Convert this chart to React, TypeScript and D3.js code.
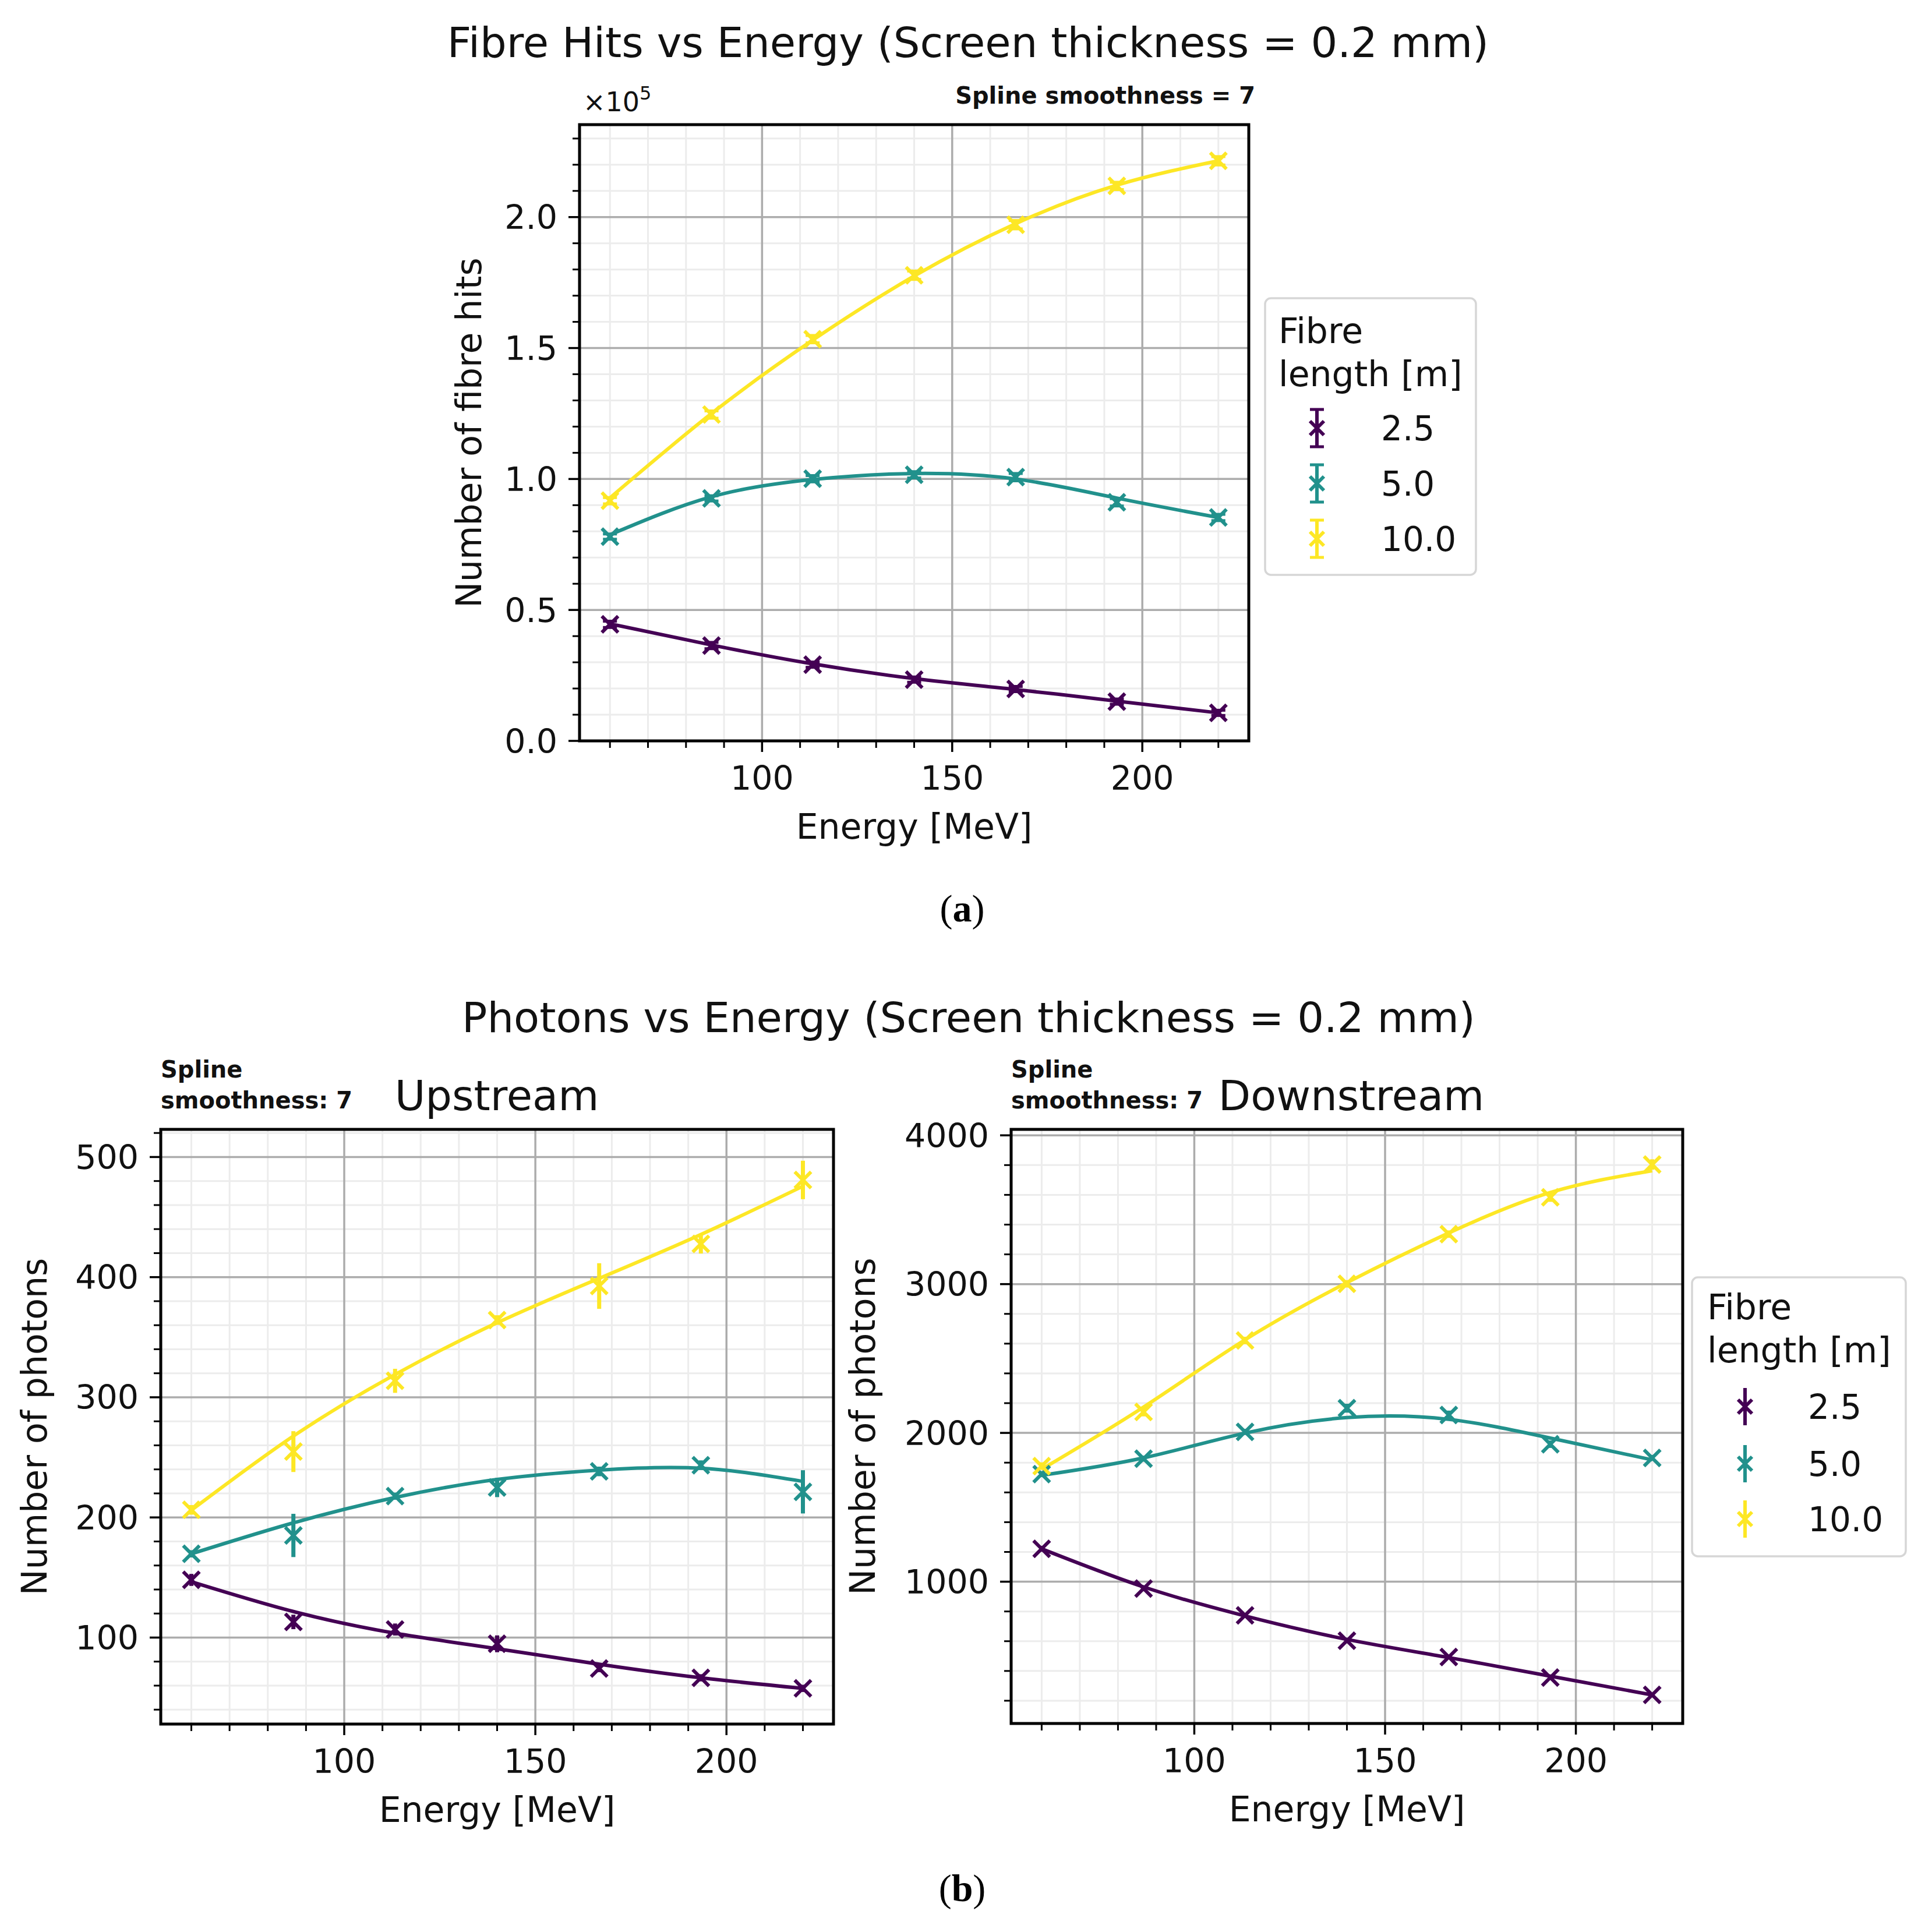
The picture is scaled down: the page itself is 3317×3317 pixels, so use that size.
import * as d3 from "d3";

// energies of the beam (x) for every panel
const energies = [60, 86.7, 113.3, 140, 166.7, 193.3, 220];
const lengthLabels = ["2.5", "5.0", "10.0"];
const colors = ["#440154", "#21918c", "#fde725"];

// (a) fibre hits, x1e5
const hits25 = [0.445, 0.364, 0.291, 0.234, 0.198, 0.15, 0.107];
const hits50 = [0.78, 0.926, 1.001, 1.016, 1.007, 0.911, 0.853];
const hits100 = [0.917, 1.246, 1.534, 1.778, 1.971, 2.119, 2.215];
const hitsErr25 = [0.012, 0.012, 0.01, 0.01, 0.01, 0.01, 0.01];
const hitsErr50 = [0.01, 0.01, 0.012, 0.012, 0.014, 0.014, 0.012];
const hitsErr100 = [0.012, 0.014, 0.014, 0.016, 0.016, 0.014, 0.016];
const hitsFit25 = [0.447, 0.366, 0.294, 0.238, 0.196, 0.152, 0.107];
const hitsFit50 = [0.787, 0.932, 0.998, 1.021, 1.0, 0.927, 0.853];
const hitsFit100 = [0.928, 1.25, 1.53, 1.775, 1.975, 2.122, 2.215];

// (b) upstream photons
const up25 = [148, 113, 106.7, 94.8, 74.2, 66.5, 57.7];
const up50 = [169.7, 185, 217.7, 224.9, 238.3, 243.5, 221.3];
const up100 = [206.3, 254.8, 313.7, 364.3, 392.6, 427.7, 480.9];
const upErr25 = [5, 6, 5, 7, 3, 3, 3];
const upErr50 = [3, 18, 3, 8, 4, 4, 18];
const upErr100 = [4, 17, 10, 4, 19, 8, 16];
const upFit25 = [146.5, 121.7, 103.6, 90.7, 77.8, 66.5, 57.7];
const upFit50 = [169.7, 195.5, 216.6, 231.6, 239.4, 240.9, 230];
const upFit100 = [206, 267.7, 319, 362, 399, 435.5, 475.7];

// (b) downstream photons
const down25 = [1221, 954, 774, 603, 494, 356, 239];
const down50 = [1723, 1827, 2007, 2166, 2120, 1924, 1832];
const down100 = [1777, 2141, 2621, 3002, 3336, 3583, 3804];
const downErr25 = [20, 18, 16, 16, 16, 16, 16];
const downErr50 = [20, 20, 20, 30, 30, 25, 20];
const downErr100 = [25, 30, 25, 25, 25, 30, 35];
const downFit25 = [1221, 965, 770, 612, 490, 365, 239];
const downFit50 = [1715, 1832, 1999, 2103, 2091, 1965, 1819];
const downFit100 = [1756, 2174, 2626, 3010, 3344, 3616, 3762];

const FONT = "DejaVu Sans";

type Series = { pts: number[]; err: number[]; fit: number[]; color: string };

function makeSeries(pts: number[][], err: number[][], fit: number[][]): Series[] {
  return pts.map((p, i) => ({ pts: p, err: err[i], fit: fit[i], color: colors[i] }));
}

interface PanelProps {
  left: number;
  top: number;
  width: number;
  height: number;
  yDomain: [number, number];
  yMajor: number;
  yMinor: number;
  yFmt: (v: number) => string;
  series: Series[];
  caps: boolean;
  yLabel: string;
  yLabelX: number;
}

function Marker({ x, y, color, s = 14 }: { x: number; y: number; color: string; s?: number }) {
  return (
    <path
      d={`M${x - s},${y - s}L${x + s},${y + s}M${x - s},${y + s}L${x + s},${y - s}`}
      stroke={color}
      strokeWidth={6}
      fill="none"
    />
  );
}

function Panel(p: PanelProps) {
  const x = d3.scaleLinear().domain([52, 228]).range([p.left, p.left + p.width]);
  const y = d3.scaleLinear().domain(p.yDomain).range([p.top + p.height, p.top]);
  const bottom = p.top + p.height;

  const xMajor = [100, 150, 200];
  const xMinor = d3.range(60, 221, 10).filter((v) => v % 50 !== 0);
  const yMajor = d3
    .range(Math.ceil(p.yDomain[0] / p.yMajor) * p.yMajor, p.yDomain[1] + 1e-9, p.yMajor)
    .map((v) => +v.toFixed(6));
  const yMinor = d3
    .range(Math.ceil(p.yDomain[0] / p.yMinor) * p.yMinor, p.yDomain[1] + 1e-9, p.yMinor)
    .map((v) => +v.toFixed(6))
    .filter((v) => !yMajor.some((m) => Math.abs(m - v) < 1e-6));

  const line = d3
    .line<number>()
    .x((_, i) => x(energies[i]))
    .y((d) => y(d))
    .curve(d3.curveNatural);

  return (
    <g>
      {/* minor grid */}
      {xMinor.map((t) => (
        <line key={`xm${t}`} x1={x(t)} x2={x(t)} y1={p.top} y2={bottom} stroke="#ececec" strokeWidth={3} />
      ))}
      {yMinor.map((t) => (
        <line key={`ym${t}`} x1={p.left} x2={p.left + p.width} y1={y(t)} y2={y(t)} stroke="#ececec" strokeWidth={3} />
      ))}
      {/* major grid */}
      {xMajor.map((t) => (
        <line key={`xg${t}`} x1={x(t)} x2={x(t)} y1={p.top} y2={bottom} stroke="#acacac" strokeWidth={3.5} />
      ))}
      {yMajor.map((t) => (
        <line key={`yg${t}`} x1={p.left} x2={p.left + p.width} y1={y(t)} y2={y(t)} stroke="#acacac" strokeWidth={3.5} />
      ))}

      {/* spline fits */}
      {p.series.map((s, si) => (
        <path key={`f${si}`} d={line(s.fit) ?? ""} fill="none" stroke={s.color} strokeWidth={6} />
      ))}

      {/* points with error bars */}
      {p.series.map((s, si) =>
        s.pts.map((v, i) => {
          const cx = x(energies[i]);
          const y1 = y(v - s.err[i]);
          const y2 = y(v + s.err[i]);
          return (
            <g key={`p${si}-${i}`}>
              <line x1={cx} x2={cx} y1={y1} y2={y2} stroke={s.color} strokeWidth={7} />
              {p.caps && (
                <>
                  <line x1={cx - 12} x2={cx + 12} y1={y1} y2={y1} stroke={s.color} strokeWidth={5} />
                  <line x1={cx - 12} x2={cx + 12} y1={y2} y2={y2} stroke={s.color} strokeWidth={5} />
                </>
              )}
              <Marker x={cx} y={y(v)} color={s.color} />
            </g>
          );
        })
      )}

      {/* spines */}
      <rect x={p.left} y={p.top} width={p.width} height={p.height} fill="none" stroke="#000" strokeWidth={5} />

      {/* ticks */}
      {xMajor.map((t) => (
        <g key={`xt${t}`}>
          <line x1={x(t)} x2={x(t)} y1={bottom} y2={bottom + 19} stroke="#000" strokeWidth={3.5} />
          <text x={x(t)} y={bottom + 84} textAnchor="middle" fontSize={57} fontFamily={FONT} fill="#111">
            {t}
          </text>
        </g>
      ))}
      {xMinor.map((t) => (
        <line key={`xmt${t}`} x1={x(t)} x2={x(t)} y1={bottom} y2={bottom + 12} stroke="#000" strokeWidth={3} />
      ))}
      {yMajor.map((t) => (
        <g key={`yt${t}`}>
          <line x1={p.left - 19} x2={p.left} y1={y(t)} y2={y(t)} stroke="#000" strokeWidth={3.5} />
          <text
            x={p.left - 38}
            y={y(t)}
            dy="0.36em"
            textAnchor="end"
            fontSize={57}
            fontFamily={FONT}
            fill="#111"
          >
            {p.yFmt(t)}
          </text>
        </g>
      ))}
      {yMinor.map((t) => (
        <line key={`ymt${t}`} x1={p.left - 12} x2={p.left} y1={y(t)} y2={y(t)} stroke="#000" strokeWidth={3} />
      ))}

      {/* axis labels */}
      <text
        x={p.left + p.width / 2}
        y={bottom + 168}
        textAnchor="middle"
        fontSize={60}
        fontFamily={FONT}
        fill="#111"
      >
        Energy [MeV]
      </text>
      <text
        transform={`translate(${p.yLabelX},${p.top + p.height / 2}) rotate(-90)`}
        textAnchor="middle"
        fontSize={60}
        fontFamily={FONT}
        fill="#111"
      >
        {p.yLabel}
      </text>
    </g>
  );
}

function Legend({
  left,
  top,
  width,
  height,
  caps,
  titleX,
  titleY,
  rowY,
  markX,
  labelX,
}: {
  left: number;
  top: number;
  width: number;
  height: number;
  caps: boolean;
  titleX: number;
  titleY: number[];
  rowY: number[];
  markX: number;
  labelX: number;
}) {
  return (
    <g>
      <rect
        x={left}
        y={top}
        width={width}
        height={height}
        rx={10}
        fill="#fff"
        stroke="#d6d6d6"
        strokeWidth={3.5}
      />
      <text x={titleX} y={titleY[0]} fontSize={60} fontFamily={FONT} fill="#111">
        Fibre
      </text>
      <text x={titleX} y={titleY[1]} fontSize={60} fontFamily={FONT} fill="#111">
        length [m]
      </text>
      {lengthLabels.map((l, i) => (
        <g key={l}>
          <line x1={markX} x2={markX} y1={rowY[i] - 32} y2={rowY[i] + 32} stroke={colors[i]} strokeWidth={6} />
          {caps && (
            <>
              <line x1={markX - 12} x2={markX + 12} y1={rowY[i] - 32} y2={rowY[i] - 32} stroke={colors[i]} strokeWidth={5} />
              <line x1={markX - 12} x2={markX + 12} y1={rowY[i] + 32} y2={rowY[i] + 32} stroke={colors[i]} strokeWidth={5} />
            </>
          )}
          <Marker x={markX} y={rowY[i]} color={colors[i]} s={12} />
          <text x={labelX} y={rowY[i]} dy="0.36em" fontSize={58} fontFamily={FONT} fill="#111">
            {l}
          </text>
        </g>
      ))}
    </g>
  );
}

export default function App() {
  const hits = makeSeries([hits25, hits50, hits100], [hitsErr25, hitsErr50, hitsErr100], [hitsFit25, hitsFit50, hitsFit100]);
  const up = makeSeries([up25, up50, up100], [upErr25, upErr50, upErr100], [upFit25, upFit50, upFit100]);
  const down = makeSeries([down25, down50, down100], [downErr25, downErr50, downErr100], [downFit25, downFit50, downFit100]);

  return (
    <svg
      width={3317}
      height={3317}
      style={{ position: "absolute", left: 0, top: 0, background: "#fff" }}
    >
      <rect width={3317} height={3317} fill="#fff" />

      {/* (a) */}
      <text x={1662} y={98} textAnchor="middle" fontSize={72} fontFamily={FONT} fill="#111">
        Fibre Hits vs Energy (Screen thickness = 0.2 mm)
      </text>
      <text x={2155} y={178} textAnchor="end" fontSize={40} fontWeight="bold" fontFamily={FONT} fill="#111">
        Spline smoothness = 7
      </text>
      <text x={1001} y={191} fontSize={46} fontFamily={FONT} fill="#111">
        ×10
        <tspan dy={-20} fontSize={32}>
          5
        </tspan>
      </text>
      <Panel
        left={995}
        top={214}
        width={1149}
        height={1058}
        yDomain={[0, 2.353]}
        yMajor={0.5}
        yMinor={0.1}
        yFmt={d3.format(".1f")}
        series={hits}
        caps={true}
        yLabel="Number of fibre hits"
        yLabelX={826}
      />
      <Legend
        left={2172}
        top={512}
        width={362}
        height={475}
        caps={true}
        titleX={2195}
        titleY={[589, 663]}
        rowY={[735, 830, 925]}
        markX={2261}
        labelX={2371}
      />
      <text x={1652} y={1582} textAnchor="middle" fontSize={66} fontFamily="Liberation Serif" fill="#000">
        (<tspan fontWeight="bold">a</tspan>)
      </text>

      {/* (b) */}
      <text x={1663} y={1772} textAnchor="middle" fontSize={72} fontFamily={FONT} fill="#111">
        Photons vs Energy (Screen thickness = 0.2 mm)
      </text>

      <text x={276} y={1850} fontSize={40} fontWeight="bold" fontFamily={FONT} fill="#111">
        Spline
      </text>
      <text x={276} y={1903} fontSize={40} fontWeight="bold" fontFamily={FONT} fill="#111">
        smoothness: 7
      </text>
      <text x={853} y={1906} textAnchor="middle" fontSize={72} fontFamily={FONT} fill="#111">
        Upstream
      </text>
      <Panel
        left={276}
        top={1939}
        width={1155}
        height={1021}
        yDomain={[28, 523]}
        yMajor={100}
        yMinor={20}
        yFmt={d3.format("d")}
        series={up}
        caps={false}
        yLabel="Number of photons"
        yLabelX={80}
      />

      <text x={1736} y={1850} fontSize={40} fontWeight="bold" fontFamily={FONT} fill="#111">
        Spline
      </text>
      <text x={1736} y={1903} fontSize={40} fontWeight="bold" fontFamily={FONT} fill="#111">
        smoothness: 7
      </text>
      <text x={2320} y={1906} textAnchor="middle" fontSize={72} fontFamily={FONT} fill="#111">
        Downstream
      </text>
      <Panel
        left={1736}
        top={1939}
        width={1153}
        height={1020}
        yDomain={[47, 4040]}
        yMajor={1000}
        yMinor={200}
        yFmt={d3.format("d")}
        series={down}
        caps={false}
        yLabel="Number of photons"
        yLabelX={1502}
      />
      <Legend
        left={2905}
        top={2193}
        width={367}
        height={479}
        caps={false}
        titleX={2931}
        titleY={[2265, 2339]}
        rowY={[2415, 2513, 2608]}
        markX={2996}
        labelX={3104}
      />
      <text x={1652} y={3264} textAnchor="middle" fontSize={66} fontFamily="Liberation Serif" fill="#000">
        (<tspan fontWeight="bold">b</tspan>)
      </text>
    </svg>
  );
}
